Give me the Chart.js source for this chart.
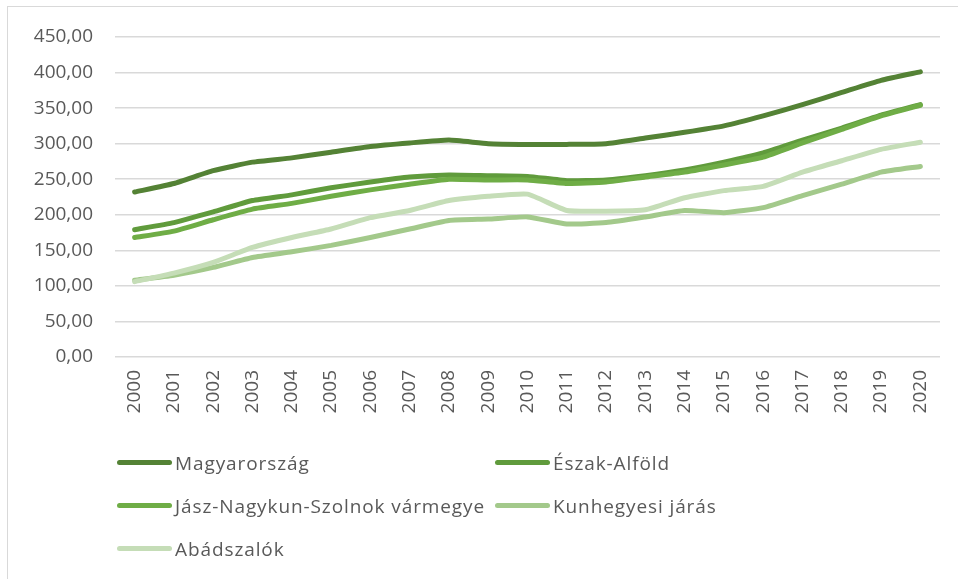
<!DOCTYPE html>
<html lang="hu">
<head>
<meta charset="utf-8">
<title>Magyarország, Észak-Alföld, Jász-Nagykun-Szolnok vármegye, Kunhegyesi járás, Abádszalók</title>
<script src="https://cdn.jsdelivr.net/npm/chart.js@4.4.1/dist/chart.umd.min.js"></script>
<style>
  html, body { margin: 0; padding: 0; background: #fff; }
  body { width: 958px; height: 579px; position: relative; overflow: hidden; font-family: "Open Sans", sans-serif; }
  #frame { position: absolute; left: 7px; top: 6px; width: 1000px; height: 700px; border-left: 1px solid #d9d9d9; border-top: 1px solid #d9d9d9; }
  #wrap { position: absolute; left: 0; top: 0; width: 958px; height: 579px; }
  #legend { position: absolute; left: 117px; top: 447px; display: grid; grid-template-columns: 378px 378px; row-gap: 12px; }
  .item { display: flex; align-items: center; height: 31px; color: #595959; font-size: 19px; letter-spacing: 0.9px; white-space: nowrap; }
  .swatch { width: 55px; height: 5px; border-radius: 3px; margin-right: 3px; }
</style>
</head>
<body>
<div id="frame"></div>
<div id="wrap"><canvas id="chart" width="958" height="579"></canvas></div>
<div id="legend"></div>
<script>
// Years on the category axis
const years = ['2000', '2001', '2002', '2003', '2004', '2005', '2006', '2007', '2008', '2009', '2010',
  '2011', '2012', '2013', '2014', '2015', '2016', '2017', '2018', '2019', '2020'];

// Series values
const magyarorszag = [232, 244, 262, 274, 280, 288, 296, 301, 305, 300, 299, 299, 300, 308, 316, 325, 339, 355, 372, 389, 401];
const eszakAlfold = [179, 189, 204, 220, 228, 238, 246, 253, 256, 255, 254, 248, 249, 255, 263, 274, 287, 305, 322, 340, 355];
const jnszVarmegye = [168, 177, 193, 208, 216, 226, 235, 243, 250, 249, 249, 244, 246, 253, 260, 270, 281, 301, 320, 339, 354];
const kunhegyesi = [108, 115, 126, 140, 148, 157, 168, 180, 192, 194, 197, 187, 189, 197, 206, 203, 210, 227, 243, 260, 268];
const abadszalok = [106, 118, 133, 154, 168, 180, 196, 206, 220, 226, 229, 206, 205, 207, 224, 234, 240, 260, 276, 292, 302];

// Y axis
const yMin = 0;
const yMax = 450;
const yStep = 50;

const seriesNames = ['Magyarország', 'Észak-Alföld', 'Jász-Nagykun-Szolnok vármegye', 'Kunhegyesi járás', 'Abádszalók'];
const seriesData = [magyarorszag, eszakAlfold, jnszVarmegye, kunhegyesi, abadszalok];
const seriesColors = ['#548235', '#609b3c', '#6fad46', '#a3c98b', '#c5ddb7'];

const textColor = '#595959';
const tickFont = { family: 'Open Sans', size: 19 };

const datasets = seriesNames.map((name, i) => ({
  label: name,
  data: seriesData[i],
  borderColor: seriesColors[i],
  backgroundColor: seriesColors[i],
  borderWidth: 5,
  pointRadius: 0,
  tension: 0.15,
  borderCapStyle: 'round',
  borderJoinStyle: 'round',
  fill: false,
  // later series sit on top
  order: seriesNames.length - i
}));

const ctx = document.getElementById('chart').getContext('2d');
const chart = new Chart(ctx, {
  type: 'line',
  data: { labels: years, datasets },
  options: {
    responsive: false,
    animation: false,
    layout: { padding: { top: 37, right: 18, bottom: 0, left: 0 } },
    plugins: { legend: { display: false }, tooltip: { enabled: false } },
    scales: {
      x: {
        offset: true,
        grid: { display: false, drawTicks: false },
        border: { display: false },
        ticks: { color: textColor, font: tickFont, minRotation: 90, maxRotation: 90, padding: 13, autoSkip: false },
        afterFit: (scale) => { scale.height = 222; }
      },
      y: {
        min: yMin,
        max: yMax,
        grid: { color: '#d9d9d9', lineWidth: 1.5, drawTicks: false },
        border: { display: false },
        ticks: {
          stepSize: yStep,
          color: textColor,
          font: tickFont,
          padding: 22,
          callback: (v) => v.toFixed(2).replace('.', ',')
        },
        afterFit: (scale) => { scale.width = 115; }
      }
    }
  }
});

// legend in two columns
const legend = document.getElementById('legend');
seriesNames.forEach((name, i) => {
  const item = document.createElement('div');
  item.className = 'item';
  const sw = document.createElement('span');
  sw.className = 'swatch';
  sw.style.background = seriesColors[i];
  const label = document.createElement('span');
  label.textContent = name;
  item.appendChild(sw);
  item.appendChild(label);
  legend.appendChild(item);
});
</script>
</body>
</html>
